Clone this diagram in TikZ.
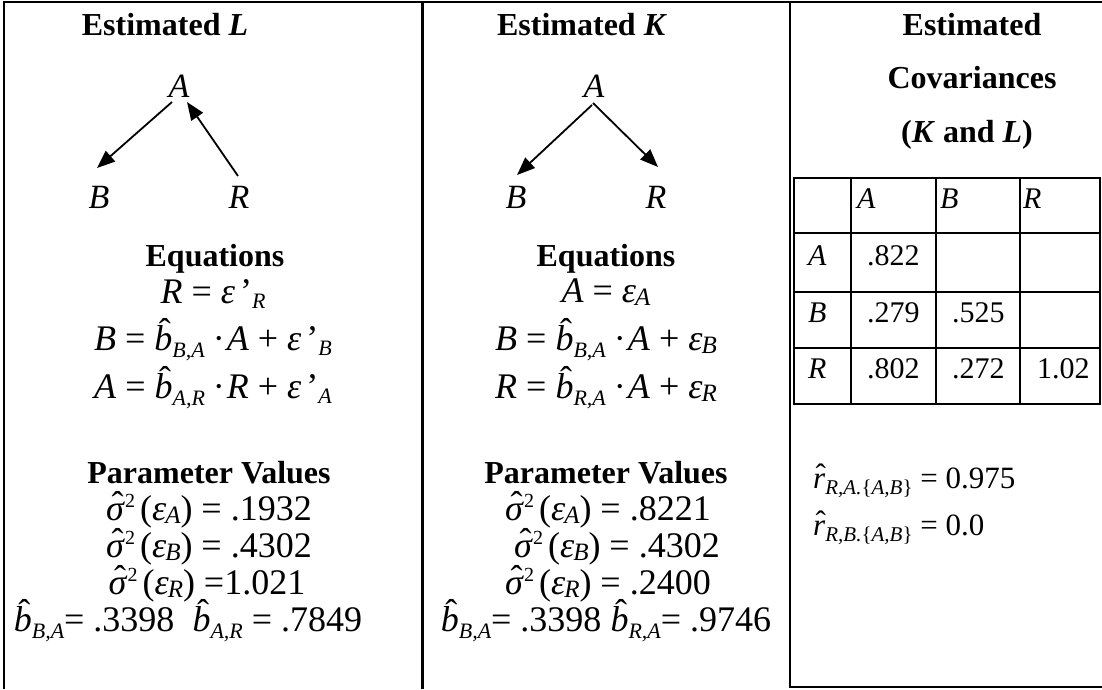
\documentclass[tikz,border=0pt]{standalone}
\usepackage{fontspec}
\setmainfont{Liberation Serif}
\usetikzlibrary{arrows.meta,calc}

% letter with a circumflex above: #1 letter, #2 raise of the hat, #3 shift right
\newcommand{\hatc}[3]{\ooalign{\textit{#1}\cr\hidewidth\kern#3\raisebox{#2}{ˆ}\hidewidth\cr}}
\newcommand{\hb}{\hatc{b}{7pt}{3pt}}
\newcommand{\hs}{\hatc{σ}{4pt}{4pt}}
\newcommand{\hr}{\hatc{r}{3pt}{3pt}}
\newcommand{\lsub}[2]{\raisebox{#1}{\fontsize{22}{22}\selectfont\itshape #2}}
\newcommand{\esub}[1]{\hspace{-1pt}\raisebox{-3pt}{\fontsize{25}{25}\selectfont\itshape #1}}
\newcommand{\sqr}{\raisebox{13pt}{\fontsize{20}{20}\selectfont 2}}
\newcommand{\rsub}[1]{\raisebox{-6pt}{\fontsize{21}{21}\selectfont\itshape #1}}

\tikzset{
 hd/.style={anchor=base, inner sep=0pt, font=\fontsize{32}{38}\selectfont\bfseries},
 eq/.style={anchor=base, inner sep=0pt, font=\fontsize{36}{40}\selectfont},
 vx/.style={anchor=base, inner sep=0pt, font=\fontsize{34}{40}\selectfont\itshape},
 cell/.style={anchor=base west, inner sep=0pt, font=\fontsize{30}{34}\selectfont},
 rr/.style={anchor=base west, inner sep=0pt, font=\fontsize{31}{34}\selectfont},
 arr/.style={-{Triangle[length=18pt,width=14pt]}, line width=1.8pt},
 frame/.style={line width=2pt},
}

\begin{document}
\begin{tikzpicture}[x=1pt,y=-1pt]
\useasboundingbox (0,0) rectangle (1102,689);

% frame
\draw[frame] (4,689) -- (4,2) -- (1102,2);
\draw[line width=3pt] (422,2) -- (422,689);
\draw[line width=2.5pt] (790,2) -- (790,687) -- (1102,687);

% ---------- column 1: Estimated L ----------
\node[hd] (tL) at (165,35) {Estimated \textit{L}};
\node[vx] (LA) at (179,97) {A};
\node[vx] (LB) at (99,208) {B};
\node[vx] (LR) at (239,208) {R};
\draw[arr] ($(LA.base)+(-7,5)$) -- ($(LB.base)+(-2,-40)$);
\draw[arr] ($(LR.base)+(-1,-32)$) -- ($(LA.base)+(8,5)$);

\node[hd] (eqL) at (215,266) {Equations};
\node[eq] (L1) at (213,303) {\textit{R} = \textit{ε}\hspace{5pt}’\lsub{-5pt}{R}};
\node[eq] (L2) at (213,350) {\textit{B} = \hb\lsub{-7pt}{B,A}\hspace{8pt}·\hspace{2pt}\textit{A} + \textit{ε}\hspace{5pt}’\lsub{-5pt}{B}};
\node[eq] (L3) at (213,398) {\textit{A} = \hb\lsub{-7pt}{A,R}\hspace{8pt}·\hspace{2pt}\textit{R} + \textit{ε}\hspace{5pt}’\lsub{-5pt}{A}};

\node[hd] (pL) at (209,483) {Parameter Values};
\node[eq] (L4) at (209,520) {\hs\sqr\hspace{5pt}(\textit{ε}\esub{A}) = .1932};
\node[eq] (L5) at (209,557) {\hs\sqr\hspace{5pt}(\textit{ε}\esub{B}) = .4302};
\node[eq] (L6) at (207,594) {\hs\sqr\hspace{5pt}(\textit{ε}\esub{R}) =1.021};
\node[eq] (L7) at (188,631) {\hb\lsub{-7pt}{B,A}= .3398\hspace{18pt}\hb\lsub{-7pt}{A,R} = .7849};

% ---------- column 2: Estimated K ----------
\node[hd] (tK) at (582,35) {Estimated \textit{K}};
\node[vx] (KA) at (594,97) {A};
\node[vx] (KB) at (516,208) {B};
\node[vx] (KR) at (656,208) {R};
\draw[arr] ($(KA.base)+(-2,8)$) -- ($(KB.base)+(1,-33)$);
\draw[arr] ($(KA.base)+(-1,6)$) -- ($(KR.base)+(2,-41)$);

\node[hd] (eqK) at (606,266) {Equations};
\node[eq] (K1) at (606,302) {\textit{A} = \textit{ε}\esub{A}};
\node[eq] (K2) at (606,350) {\textit{B} = \hb\lsub{-7pt}{B,A}\hspace{8pt}·\hspace{2pt}\textit{A} + \textit{ε}\esub{B}};
\node[eq] (K3) at (606,398) {\textit{R} = \hb\lsub{-7pt}{R,A}\hspace{8pt}·\hspace{2pt}\textit{A} + \textit{ε}\esub{R}};

\node[hd] (pK) at (606,483) {Parameter Values};
\node[eq] (K4) at (608,520) {\hs\sqr\hspace{5pt}(\textit{ε}\esub{A}) = .8221};
\node[eq] (K5) at (617,557) {\hs\sqr\hspace{5pt}(\textit{ε}\esub{B}) = .4302};
\node[eq] (K6) at (608,594) {\hs\sqr\hspace{5pt}(\textit{ε}\esub{R}) = .2400};
\node[eq] (K7) at (606,631) {\hb\lsub{-7pt}{B,A}= .3398 \hb\lsub{-7pt}{R,A}= .9746};

% ---------- column 3: covariances ----------
\node[hd] (c1) at (972,35) {Estimated};
\node[hd] (c2) at (972,88) {Covariances};
\node[hd] (c3) at (967,142) {(\textit{K} and \textit{L})};

\draw[frame] (794,178) rectangle (1100,404);
\foreach \xx in {851,936,1020} \draw[frame] (\xx,178) -- (\xx,404);
\foreach \yy in {233,292,348} \draw[frame] (794,\yy) -- (1100,\yy);

\node[cell] (hA) at (857,208) {\textit{A}};
\node[cell] (hB) at (940,208) {\textit{B}};
\node[cell] (hR) at (1023,208) {\textit{R}};
\node[cell] (rA) at (808,265) {\textit{A}};
\node[cell] (rB) at (808,322) {\textit{B}};
\node[cell] (rR) at (808,378) {\textit{R}};
\node[cell] (vAA) at (867,265) {.822};
\node[cell] (vBA) at (867,322) {.279};
\node[cell] (vBB) at (952,322) {.525};
\node[cell] (vRA) at (867,378) {.802};
\node[cell] (vRB) at (952,378) {.272};
\node[cell] (vRR) at (1037,378) {1.02};

\node[rr] (r1) at (813,488) {\hr\rsub{R,A.{\upshape\{}A,B{\upshape\}}} = 0.975};
\node[rr] (r2) at (813,535) {\hr\rsub{R,B.{\upshape\{}A,B{\upshape\}}} = 0.0};
\end{tikzpicture}
\end{document}
